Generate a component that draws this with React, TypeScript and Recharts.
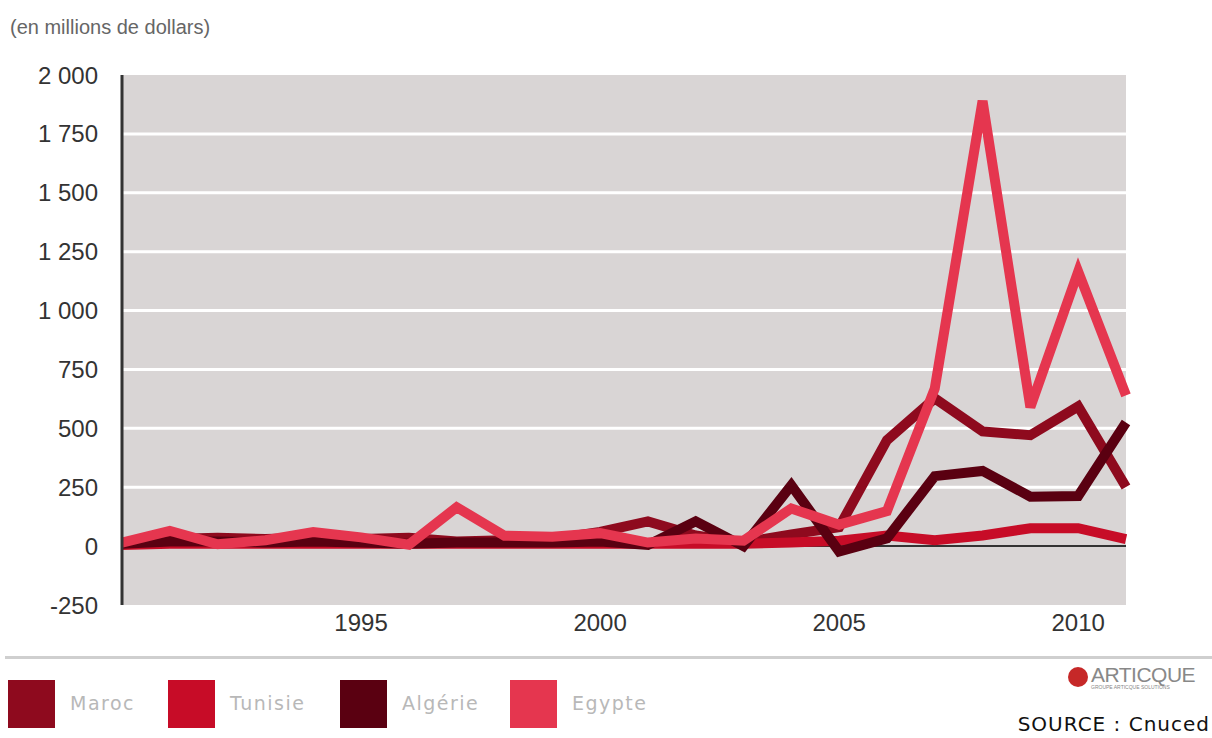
import { LineChart, Line, XAxis, YAxis, CartesianGrid, ReferenceLine } from 'recharts'

const years = [1990, 1991, 1992, 1993, 1994, 1995, 1996, 1997, 1998, 1999, 2000, 2001, 2002, 2003, 2004, 2005, 2006, 2007, 2008, 2009, 2010, 2011]
const maroc = [10, 30, 35, 30, 35, 30, 35, 20, 25, 30, 60, 105, 45, 15, 50, 80, 450, 627, 487, 471, 593, 251]
const tunisie = [5, 10, 10, 10, 10, 10, 10, 10, 10, 10, 10, 10, 10, 10, 15, 23, 45, 25, 45, 76, 76, 30]
const algerie = [10, 20, 20, 15, 20, 15, 10, 15, 15, 15, 20, 5, 105, 0, 258, -23, 33, 297, 319, 210, 213, 525]
const egypte = [15, 65, 8, 25, 60, 37, 6, 165, 44, 40, 55, 15, 32, 23, 160, 91, 149, 669, 1890, 590, 1165, 640]

const yTicks = [-250, 0, 250, 500, 750, 1000, 1250, 1500, 1750, 2000]
const xTicks = [1995, 2000, 2005, 2010]
const gridLines = [250, 500, 750, 1000, 1250, 1500, 1750]

const series = [
  { key: 'maroc', name: 'Maroc', color: '#8E0A1E' },
  { key: 'tunisie', name: 'Tunisie', color: '#C70C27' },
  { key: 'algerie', name: 'Algérie', color: '#5A0011' },
  { key: 'egypte', name: 'Egypte', color: '#E5364F' },
]

const data = years.map((year, i) => ({
  year,
  maroc: maroc[i],
  tunisie: tunisie[i],
  algerie: algerie[i],
  egypte: egypte[i],
}))

const fmt = (v: number) => String(v).replace(/\B(?=(\d{3})+(?!\d))/g, ' ')

const legendX = [8, 168, 340, 510]

export default function App() {
  return (
    <div style={{ position: 'absolute', left: 0, top: 0, width: 1212, height: 738, background: '#fff', overflow: 'hidden', fontFamily: '"Liberation Sans", Arial, sans-serif' }}>
      <div style={{ position: 'absolute', left: 10, top: 16, fontSize: 20, color: '#666' }}>(en millions de dollars)</div>
      <div style={{ position: 'absolute', left: 0, top: 0 }}>
        <LineChart width={1212} height={660} data={data} margin={{ top: 75, right: 86, bottom: 0, left: 0 }}>
          <CartesianGrid fill="#D9D5D5" vertical={false} stroke="#fff" strokeWidth={3} horizontalValues={gridLines} />
          <XAxis
            dataKey="year"
            type="number"
            domain={[1990, 2011]}
            ticks={xTicks}
            height={55}
            axisLine={false}
            tickLine={false}
            tickSize={0}
            tickMargin={9}
            tick={{ fill: '#333', fontSize: 24 }}
          />
          <YAxis
            domain={[-250, 2000]}
            ticks={yTicks}
            width={122}
            tickFormatter={fmt}
            axisLine={{ stroke: '#333', strokeWidth: 3 }}
            tickLine={false}
            tickSize={0}
            tickMargin={24}
            tick={{ fill: '#333', fontSize: 24 }}
            interval={0}
          />
          <ReferenceLine y={0} stroke="#333" strokeWidth={2} />
          {series.map(s => (
            <Line key={s.key} type="linear" dataKey={s.key} name={s.name} stroke={s.color} strokeWidth={10} dot={false} activeDot={false} isAnimationActive={false} />
          ))}
        </LineChart>
      </div>
      <div style={{ position: 'absolute', left: 5, top: 656, width: 1207, height: 3, background: '#cfcfcf' }} />
      {series.map((s, i) => (
        <div key={s.key}>
          <div style={{ position: 'absolute', left: legendX[i], top: 680, width: 47, height: 48, background: s.color }} />
          <div style={{ position: 'absolute', left: legendX[i] + 62, top: 692, fontSize: 19, color: '#b8b8b8', fontFamily: '"DejaVu Sans", sans-serif', letterSpacing: 1.5 }}>{s.name}</div>
        </div>
      ))}
      <div style={{ position: 'absolute', left: 1068, top: 664, display: 'flex', alignItems: 'center' }}>
        <div style={{ width: 20, height: 20, borderRadius: 10, background: '#c62828', marginRight: 3 }} />
        <div style={{ lineHeight: 1 }}>
          <div style={{ fontSize: 21, color: '#888', fontFamily: '"Liberation Sans Narrow", "Liberation Sans", sans-serif', letterSpacing: -0.5 }}>ARTICQUE</div>
          <div style={{ fontSize: 5, color: '#888' }}>GROUPE ARTICQUE SOLUTIONS</div>
        </div>
      </div>
      <div style={{ position: 'absolute', right: 2, top: 712, fontSize: 20, color: '#111', letterSpacing: 1, fontFamily: '"DejaVu Sans", sans-serif' }}>SOURCE : Cnuced</div>
    </div>
  )
}
